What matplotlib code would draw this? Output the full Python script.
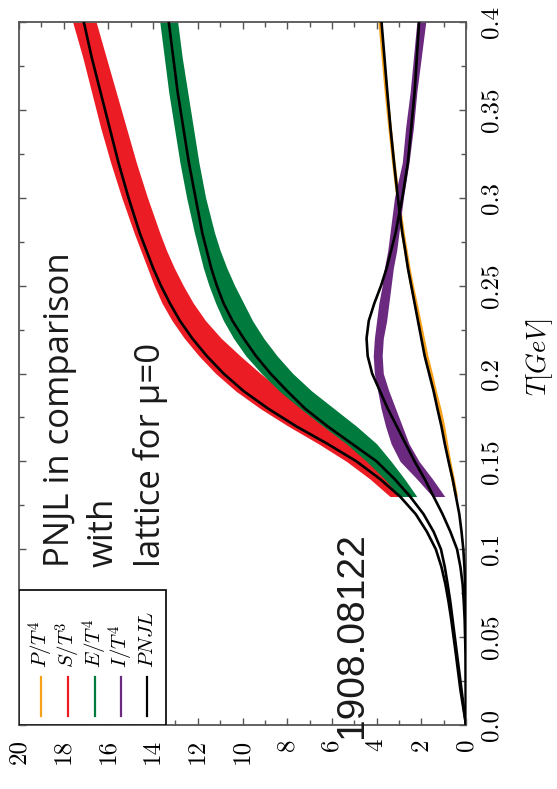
import matplotlib
matplotlib.use("Agg")
import matplotlib.pyplot as plt
from matplotlib.patches import Rectangle
from matplotlib.ticker import MultipleLocator

plt.rcParams['mathtext.fontset'] = 'cm'

# ---------------- data ----------------
# PNJL model curves (black)
T_pnjl = [0.0, 0.02, 0.04, 0.06, 0.07, 0.08, 0.09, 0.10, 0.11, 0.12, 0.13, 0.14, 0.15,
          0.16, 0.17, 0.18, 0.19, 0.20, 0.21, 0.22, 0.23, 0.24, 0.25, 0.26, 0.27, 0.28,
          0.30, 0.32, 0.34, 0.36, 0.38, 0.40]
S_pnjl = [0.0, 0.25, 0.45, 0.66, 0.78, 0.92, 1.1, 1.35, 1.75, 2.25, 2.95, 3.85, 4.9,
          6.2, 7.6, 8.85, 9.95, 10.85, 11.6, 12.25, 12.8, 13.25, 13.65, 14.0, 14.3, 14.6,
          15.1, 15.55, 15.95, 16.35, 16.75, 17.1]
E_pnjl = [0.0, 0.2, 0.4, 0.6, 0.7, 0.82, 0.95, 1.12, 1.45, 1.9, 2.5, 3.2, 4.0,
          5.1, 6.2, 7.2, 8.0, 8.75, 9.4, 9.95, 10.45, 10.85, 11.15, 11.4, 11.6, 11.8,
          12.1, 12.4, 12.65, 12.9, 13.1, 13.3]
I_pnjl = [0.0, 0.01, 0.02, 0.06, 0.1, 0.15, 0.25, 0.4, 0.7, 1.05, 1.45, 1.85, 2.3,
          2.7, 3.1, 3.5, 3.85, 4.2, 4.4, 4.45, 4.35, 4.1, 3.8, 3.55, 3.35, 3.15,
          2.85, 2.6, 2.45, 2.3, 2.2, 2.1]
P_pnjl = [0.0, 0.0, 0.0, 0.01, 0.02, 0.04, 0.07, 0.12, 0.2, 0.3, 0.45, 0.6, 0.78,
          0.95, 1.1, 1.28, 1.45, 1.65, 1.85, 2.0, 2.15, 2.3, 2.45, 2.6, 2.72, 2.85,
          3.05, 3.22, 3.38, 3.52, 3.65, 3.78]

# lattice bands
T_lat = [0.13, 0.14, 0.15, 0.16, 0.17, 0.18, 0.19, 0.20, 0.21, 0.22, 0.23, 0.24,
         0.25, 0.26, 0.27, 0.28, 0.30, 0.32, 0.34, 0.36, 0.38, 0.40]
S_lo = [2.7, 3.3, 3.95, 4.75, 5.8, 7.0, 8.2, 9.2, 10.1, 10.95, 11.65, 12.2,
        12.65, 13.05, 13.4, 13.7, 14.25, 14.75, 15.2, 15.65, 16.1, 16.55]
S_hi = [3.4, 4.3, 5.35, 6.6, 7.95, 9.2, 10.3, 11.2, 11.95, 12.6, 13.15, 13.6,
        13.95, 14.25, 14.55, 14.85, 15.4, 15.9, 16.35, 16.75, 17.15, 17.6]
E_lo = [2.2, 2.75, 3.35, 4.0, 4.9, 5.9, 6.9, 7.75, 8.45, 9.05, 9.55, 9.95,
        10.35, 10.7, 11.0, 11.25, 11.65, 11.95, 12.2, 12.45, 12.7, 12.9]
E_hi = [2.95, 3.65, 4.45, 5.35, 6.4, 7.4, 8.35, 9.15, 9.85, 10.4, 10.85, 11.2,
        11.5, 11.75, 11.95, 12.15, 12.5, 12.8, 13.05, 13.3, 13.5, 13.7]
I_lo = [0.95, 1.5, 2.1, 2.55, 2.85, 3.15, 3.45, 3.7, 3.75, 3.7, 3.55, 3.45,
        3.35, 3.25, 3.1, 3.0, 2.8, 2.55, 2.35, 2.2, 2.0, 1.8]
I_hi = [1.5, 2.2, 2.95, 3.35, 3.6, 3.8, 3.95, 4.1, 4.15, 4.1, 4.0, 3.9,
        3.75, 3.65, 3.5, 3.4, 3.2, 2.85, 2.7, 2.5, 2.35, 2.2]
P_lo = [0.38, 0.52, 0.68, 0.82, 0.95, 1.12, 1.32, 1.5, 1.7, 1.86, 2.02, 2.18,
        2.35, 2.5, 2.63, 2.76, 2.98, 3.17, 3.34, 3.5, 3.64, 3.77]
P_hi = [0.52, 0.68, 0.84, 0.98, 1.12, 1.3, 1.5, 1.68, 1.88, 2.04, 2.2, 2.36,
        2.52, 2.67, 2.8, 2.93, 3.14, 3.33, 3.5, 3.66, 3.8, 3.94]

value_ticks = [0, 2, 4, 6, 8, 10, 12, 14, 16, 18, 20]
value_labels = ['0', '2', '4', '6', '8', '10', '12', '14', '16', '18', '20']
T_ticks = [0.0, 0.05, 0.1, 0.15, 0.2, 0.25, 0.3, 0.35, 0.4]
T_labels = ['0.0', '0.05', '0.1', '0.15', '0.2', '0.25', '0.3', '0.35', '0.4']

legend_labels = [r'$P/T^4$', r'$S/T^3$', r'$E/T^4$', r'$I/T^4$', r'$PNJL$']
c_orange, c_red, c_green, c_purple, c_black = '#F7A11A', '#EC1C24', '#007A3D', '#6B2A80', '#000000'
legend_colors = [c_orange, c_red, c_green, c_purple, c_black]

# ---------------- figure ----------------
W, H = 557, 789
fig = plt.figure(figsize=(W / 100, H / 100), dpi=100)
L, R, TOP, BOT = 19, 466, 22, 725
ax = fig.add_axes([L / W, 1 - BOT / H, (R - L) / W, (BOT - TOP) / H])

ax.fill_betweenx(T_lat, P_lo, P_hi, color=c_orange, lw=0, zorder=2)
ax.fill_betweenx(T_lat, S_lo, S_hi, color=c_red, lw=0, zorder=2)
ax.fill_betweenx(T_lat, E_lo, E_hi, color=c_green, lw=0, zorder=2)
ax.fill_betweenx(T_lat, I_lo, I_hi, color=c_purple, lw=0, zorder=2)

for vals in (S_pnjl, E_pnjl, I_pnjl, P_pnjl):
    ax.plot(vals, T_pnjl, color='black', lw=1.9, zorder=3, solid_joinstyle='round')

ax.set_xlim(20, 0)
ax.set_ylim(0, 0.4)

spine_c = '#555555'
for s in ax.spines.values():
    s.set_color(spine_c)
    s.set_linewidth(1.3)

ax.set_xticks(value_ticks)
ax.set_xticklabels(value_labels)
ax.set_yticks(T_ticks)
ax.set_yticklabels(T_labels)
ax.xaxis.set_minor_locator(MultipleLocator(1))
ax.yaxis.set_minor_locator(MultipleLocator(0.025))
ax.tick_params(which='both', direction='in', top=True, bottom=True, left=True, right=True,
               color=spine_c, width=1.0)
ax.tick_params(which='major', length=5)
ax.tick_params(which='minor', length=3.5)
ax.tick_params(axis='x', labelsize=18, pad=10)
ax.tick_params(axis='y', labelsize=18, labelleft=False, labelright=True, pad=10)

for lab in ax.get_xticklabels():
    lab.set_rotation(90)
    lab.set_fontfamily('cmr10')
    lab.set_va('top')
    lab.set_ha('center')
for t in ax.yaxis.get_major_ticks():
    t.label2.set_rotation(90)
    t.label2.set_va('center')
    t.label2.set_ha('left')
    t.label2.set_fontfamily('cmr10')

fig.text(540 / W, 1 - 357 / H, r'$T[GeV]$', rotation=90, ha='center', va='center', fontsize=19)

# legend (rotated, drawn manually)
lx0, lx1, ly0 = 0.0, (166 - L) / (R - L), 0.0
ly1 = (BOT - 590) / (BOT - TOP)
ax.add_patch(Rectangle((lx0, ly0), lx1 - lx0, ly1 - ly0, transform=ax.transAxes,
                       facecolor='white', edgecolor='black', lw=1.2, zorder=5))
leg_x_px = [41, 68, 95, 121, 147]
for xp, lab, col in zip(leg_x_px, legend_labels, legend_colors):
    xa = (xp - L) / (R - L)
    ax.plot([xa, xa], [(BOT - 716) / (BOT - TOP), (BOT - 677) / (BOT - TOP)],
            transform=ax.transAxes, color=col, lw=1.6, zorder=6)
    ax.text(xa, (BOT - 668) / (BOT - TOP), lab, transform=ax.transAxes, rotation=90,
            rotation_mode='anchor', ha='left', va='center', fontsize=15, zorder=6)

# annotations
txt_c = '#1a1a1a'
for base_x, s in [(69, 'PNJL in comparison'), (113, 'with'), (160, 'lattice for μ=0')]:
    fig.text(base_x / W, 1 - 567 / H, s, rotation=90, rotation_mode='anchor',
             ha='left', va='baseline', fontsize=25, family=['Open Sans', 'DejaVu Sans'], color=txt_c)
fig.text(362 / W, 1 - 738 / H, '1908.08122', rotation=90, rotation_mode='anchor',
         ha='left', va='baseline', fontsize=28, family=['Liberation Sans', 'DejaVu Sans'], color=txt_c)

fig.savefig('out.png', dpi=100)
